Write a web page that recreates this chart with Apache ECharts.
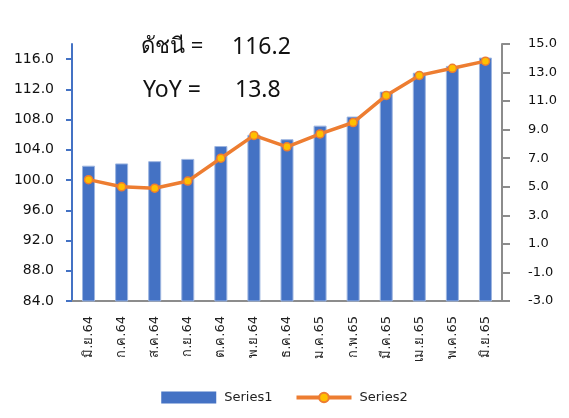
<!DOCTYPE html>
<html>
<head>
<meta charset="utf-8">
<script src="https://cdn.jsdelivr.net/npm/echarts@6/dist/echarts.min.js"></script>
<style>
  html, body { margin: 0; padding: 0; background: #fff; }
  #chart { width: 569px; height: 418px; }
</style>
</head>
<body>
<div id="chart"></div>
<script>
var categories = ['มิ.ย.64', 'ก.ค.64', 'ส.ค.64', 'ก.ย.64', 'ต.ค.64', 'พ.ย.64', 'ธ.ค.64',
                  'ม.ค.65', 'ก.พ.65', 'มี.ค.65', 'เม.ย.65', 'พ.ค.65', 'มิ.ย.65'];
var series1 = [101.9, 102.2, 102.5, 102.8, 104.5, 106.0, 105.4, 107.2, 108.4, 111.7, 114.2, 115.1, 116.2];
var series2 = [5.5, 5.0, 4.9, 5.4, 7.0, 8.6, 7.8, 8.7, 9.5, 11.4, 12.8, 13.3, 13.8];
var leftTicks = [84, 88, 92, 96, 100, 104, 108, 112, 116];
var rightTicks = [-3, -1, 1, 3, 5, 7, 9, 11, 13, 15];
var indexText = 'ดัชนี =';
var indexValue = '116.2';
var yoyText = 'YoY =';
var yoyValue = '13.8';

var font = '"DejaVu Sans", "Noto Sans", sans-serif';
var titleFont = '"Noto Sans", sans-serif';
var chart = echarts.init(document.getElementById('chart'));
var option = {
    animation: false,
    backgroundColor: '#fff',
    textStyle: { fontFamily: font },
    grid: { left: 72, right: 67, top: 44, bottom: 117 },
    legend: {
        bottom: 9,
        left: 'center',
        itemWidth: 55,
        itemHeight: 12,
        itemGap: 22,
        lineStyle: { width: 4 },
        textStyle: { fontSize: 13, color: '#222', padding: [0, 0, 0, 3] },
        data: [{ name: 'Series1', icon: 'rect', itemStyle: { borderWidth: 0 } }, 'Series2']
    },
    xAxis: {
        type: 'category',
        data: categories,
        axisLine: { onZero: false, lineStyle: { color: '#8c8c8c', width: 2 } },
        axisTick: { show: false },
        axisLabel: { rotate: 90, margin: 15, fontSize: 13, color: '#222' }
    },
    yAxis: [
        {
            type: 'value',
            min: 84,
            max: 118,
            position: 'left',
            splitLine: { show: false },
            axisLine: { show: true, lineStyle: { color: '#4472C4', width: 2 } },
            axisTick: { show: true, length: 6, customValues: leftTicks, lineStyle: { color: '#4472C4', width: 2 } },
            axisLabel: {
                customValues: leftTicks, margin: 18, fontSize: 14, color: '#111',
                formatter: function (v) { return v.toFixed(1); }
            }
        },
        {
            type: 'value',
            min: -3,
            max: 15,
            position: 'right',
            splitLine: { show: false },
            axisLine: { show: true, lineStyle: { color: '#8c8c8c', width: 2 } },
            axisTick: { show: true, length: 8, customValues: rightTicks, lineStyle: { color: '#8c8c8c', width: 2 } },
            axisLabel: {
                customValues: rightTicks, margin: 26, fontSize: 13, color: '#111',
                formatter: function (v) { return v.toFixed(1); }
            }
        }
    ],
    graphic: [
        { type: 'text', left: 141, top: 36, style: { text: indexText, font: '22px ' + titleFont, fill: '#111' } },
        { type: 'text', left: 232, top: 36, style: { text: indexValue, font: '23px ' + titleFont, fill: '#111' } },
        { type: 'text', left: 143, top: 79, style: { text: yoyText, font: '23px ' + titleFont, fill: '#111' } },
        { type: 'text', left: 235, top: 79, style: { text: yoyValue, font: '23px ' + titleFont, fill: '#111' } }
    ],
    series: [
        {
            name: 'Series1',
            type: 'bar',
            yAxisIndex: 0,
            barWidth: 13,
            data: series1,
            itemStyle: { color: '#4472C4', borderColor: '#9DB5E0', borderWidth: 1 }
        },
        {
            name: 'Series2',
            type: 'line',
            yAxisIndex: 1,
            data: series2,
            symbol: 'circle',
            symbolSize: 8,
            lineStyle: { color: '#ED7D31', width: 3.5 },
            itemStyle: { color: '#FFC000', borderColor: '#ED7D31', borderWidth: 1.5 },
            z: 5
        }
    ]
};
chart.setOption(option);
</script>
</body>
</html>
